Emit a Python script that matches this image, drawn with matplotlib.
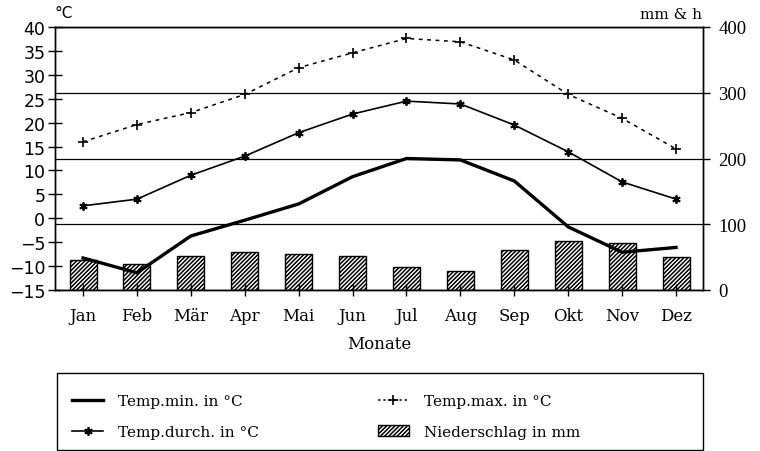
import matplotlib.pyplot as plt
import matplotlib.patches as mpatches
from matplotlib.lines import Line2D

months = ['Jan', 'Feb', 'Mär', 'Apr', 'Mai', 'Jun', 'Jul', 'Aug', 'Sep', 'Okt', 'Nov', 'Dez']
temp_min = [-8.3, -11.4, -3.7, -0.4, 3.0, 8.7, 12.5, 12.2, 7.8, -1.8, -7.1, -6.1]
temp_mean = [2.6, 4.0, 9.0, 13.0, 17.9, 21.8, 24.5, 23.9, 19.5, 13.9, 7.6, 4.0]
temp_max = [16.0, 19.6, 22.1, 25.9, 31.5, 34.6, 37.6, 36.9, 33.1, 25.9, 20.9, 14.5]
precip = [45, 40, 51, 58, 55, 52, 35, 29, 61, 75, 71, 50]

serif = 'DejaVu Serif'
x = list(range(len(months)))
plt.rcParams['hatch.linewidth'] = 1.1

fig = plt.figure(figsize=(7.6, 4.52), dpi=100)
ax = fig.add_axes([55/760, 1-291/452, 648/760, 263/452])
ax2 = ax.twinx()

# bars on the right axis, behind the temperature lines
ax2.bar(x, precip, width=0.5, color='white', edgecolor='black', hatch='////////', linewidth=1.0)
ax2.set_ylim(0, 400)
ax2.set_yticks([0, 100, 200, 300, 400])
ax2.yaxis.grid(True, color='black', linewidth=0.9)
ax2.set_axisbelow(True)
ax2.tick_params(axis='y', direction='out', length=5, width=1, pad=6, labelsize=13.5,
                labelfontfamily='Liberation Serif')

ax.set_zorder(ax2.get_zorder() + 1)
ax.patch.set_visible(False)

ax.plot(x, temp_min, color='black', linewidth=2.4)
ax.plot(x, temp_mean, color='black', linewidth=1.2, marker=(6, 2, 0), markersize=6, markeredgewidth=1.3)
ax.plot(x, temp_max, color='black', linewidth=1.1, linestyle=(0, (2.5, 3)), marker='+', markersize=6.5, markeredgewidth=1.2)

ax.set_xlim(-0.52, 11.5)
ax.set_ylim(-15, 40)
ax.set_yticks(range(-15, 41, 5))
ax.set_xticks(x)
ax.set_xticklabels(months, family=serif, fontsize=12)
ax.tick_params(axis='y', direction='inout', length=10, width=1, pad=2, labelsize=12.5)
ax.tick_params(axis='x', direction='inout', length=8, width=1, pad=8)
ax.set_xlabel('Monate', family=serif, fontsize=12, labelpad=8)

for a in (ax, ax2):
    for s in a.spines.values():
        s.set_linewidth(1.0)
        s.set_color('black')

fig.text(55/760, 1-13/452, '°C', fontsize=11, ha='left', va='center')
fig.text(702/760, 1-15/452, 'mm & h', family=serif, fontsize=11, ha='right', va='center')

# legend
handles = [
    Line2D([], [], color='black', linewidth=2.4),
    Line2D([], [], color='black', linewidth=1.2, marker=(6, 2, 0), markersize=6, markeredgewidth=1.3),
    Line2D([], [], color='black', linewidth=1.1, linestyle=(0, (1.5, 2)), marker='+', markersize=6.5, markeredgewidth=1.2),
    mpatches.Patch(facecolor='white', edgecolor='black', hatch='////////'),
]
labels = ['Temp.min. in °C', 'Temp.durch. in °C', 'Temp.max. in °C', 'Niederschlag in mm']
fig.legend(handles, labels, loc='upper left', bbox_to_anchor=(57/760, 1-380/452), ncol=2,
           frameon=False, borderaxespad=0, borderpad=1.0, handlelength=2.0, handletextpad=1.0,
           columnspacing=7.8, labelspacing=1.1, prop={'family': serif, 'size': 11})
fig.patches.append(mpatches.Rectangle((57/760, 1-451/452), 646/760, 77/452, transform=fig.transFigure,
                                      fill=False, edgecolor='black', linewidth=1.0))

fig.savefig('out.png', dpi=100)
